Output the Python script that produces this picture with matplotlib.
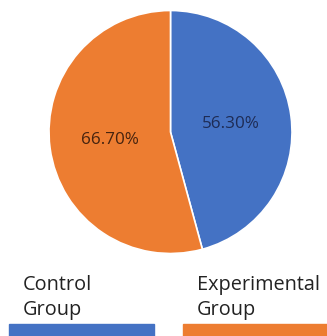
import matplotlib
matplotlib.use("Agg")
import matplotlib.pyplot as plt
from matplotlib.patches import Rectangle

# Data
groups = ["Control\nGroup", "Experimental\nGroup"]
values = [56.30, 66.70]
colors = ["#4472C4", "#ED7D31"]
label_colors = ["#1E2C55", "#45230F"]

plt.rcParams['font.family'] = ['Open Sans', 'DejaVu Sans']

W, H = 327, 336
fig = plt.figure(figsize=(W / 100, H / 100), dpi=100)

# Pie axes: centre (170.5, 132) px, radius 121.5 px
cx, cy, r = 170.5, 132.0, 121.5
ax = fig.add_axes([(cx - r) / W, 1 - (cy + r) / H, 2 * r / W, 2 * r / H])
wedges, texts = ax.pie(
    values,
    colors=colors,
    startangle=90,
    counterclock=False,
    labels=[f"{v:.2f}%" for v in values],
    labeldistance=0.5,
    wedgeprops=dict(edgecolor="white", linewidth=1.2),
    textprops=dict(fontsize=12.3),
)
for t, c in zip(texts, label_colors):
    t.set_color(c)
    t.set_ha("center")
    t.set_va("center")
ax.set_xlim(-1, 1)
ax.set_ylim(-1, 1)
ax.set_aspect("auto")
ax.axis("off")

# Legend: label text above a wide colour bar for each group
legend_x = [9, 183]
bar_w = 145
for x0, name, col in zip(legend_x, groups, colors):
    fig.patches.append(Rectangle((x0 / W, 0), bar_w / W, 12 / H,
                                 transform=fig.transFigure, color=col))
    fig.text((x0 + 14) / W, 1 - 320 / H, name, fontsize=14.3,
             color="#222222", ha="left", va="bottom", linespacing=1.32)

fig.savefig("out.png", dpi=100)
